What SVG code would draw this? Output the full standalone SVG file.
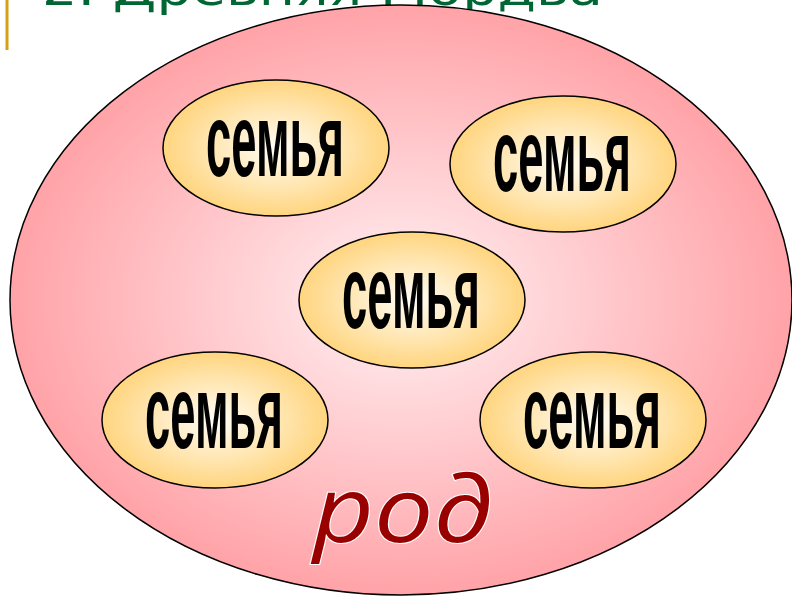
<svg xmlns="http://www.w3.org/2000/svg" width="792" height="598" viewBox="0 0 792 598">
<defs>
<radialGradient id="gBig" cx="50%" cy="50%" r="50%">
<stop offset="0" stop-color="#FFF2F4"/>
<stop offset="1" stop-color="#FFA3A8"/>
</radialGradient>
<radialGradient id="gSmall" cx="50%" cy="50%" r="50%">
<stop offset="0" stop-color="#FFFDF6"/>
<stop offset="1" stop-color="#FFD57F"/>
</radialGradient>
<style>
.fam{fill:url(#gSmall);stroke:#000;stroke-width:1.5}
.lbl{font-family:"Liberation Sans",Arial,sans-serif;font-weight:bold;font-size:104px;fill:#000;text-anchor:middle}
</style>
</defs>
<rect width="792" height="598" fill="#fff"/>
<text x="42" y="5" font-family="'DejaVu Sans',Verdana,sans-serif" font-size="46" fill="#006633" textLength="561" lengthAdjust="spacingAndGlyphs">2. Древняя Мордва</text>
<rect x="5.5" y="0" width="3" height="50" fill="#D4A017"/>
<g id="rod">
<ellipse cx="401" cy="300" rx="391" ry="295" fill="url(#gBig)" stroke="#000" stroke-width="1.5"/>
<text x="403" y="542" font-family="'Open Sans','DejaVu Sans',sans-serif" font-style="italic" font-size="92" fill="#990000" stroke="#fff" stroke-width="2" paint-order="stroke" text-anchor="middle" textLength="180" lengthAdjust="spacingAndGlyphs">род</text>
</g>
<g id="family1"><ellipse class="fam" cx="276" cy="148" rx="113" ry="68"/><text class="lbl" x="275" y="176" textLength="138" lengthAdjust="spacingAndGlyphs">семья</text></g>
<g id="family2"><ellipse class="fam" cx="563" cy="164" rx="113" ry="68"/><text class="lbl" x="562" y="191" textLength="138" lengthAdjust="spacingAndGlyphs">семья</text></g>
<g id="family3"><ellipse class="fam" cx="412" cy="300" rx="113" ry="68"/><text class="lbl" x="411" y="328" textLength="138" lengthAdjust="spacingAndGlyphs">семья</text></g>
<g id="family4"><ellipse class="fam" cx="215" cy="420" rx="113" ry="68"/><text class="lbl" x="214" y="448" textLength="138" lengthAdjust="spacingAndGlyphs">семья</text></g>
<g id="family5"><ellipse class="fam" cx="593" cy="420" rx="113" ry="68"/><text class="lbl" x="592" y="448" textLength="138" lengthAdjust="spacingAndGlyphs">семья</text></g>
<g id="connectors"/>
</svg>
